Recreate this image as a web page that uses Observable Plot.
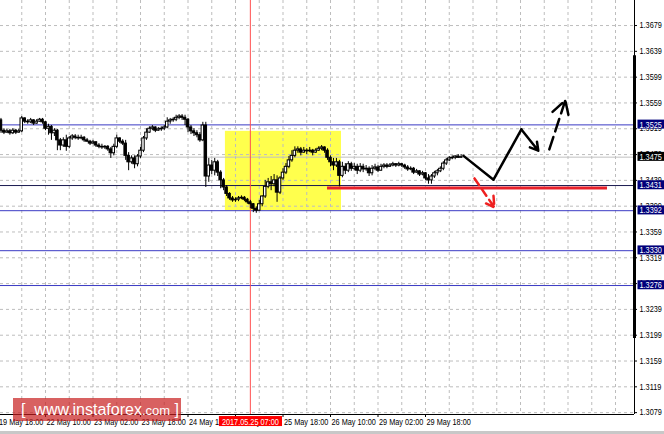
<!DOCTYPE html>
<html><head><meta charset="utf-8">
<script src="https://cdn.jsdelivr.net/npm/d3@7"></script>
<script src="https://cdn.jsdelivr.net/npm/@observablehq/plot@0.6"></script>
<style>
body{margin:0;background:#fff;}
#wrap{position:relative;width:664px;height:434px;overflow:hidden;}
#wm{position:absolute;left:13px;top:398px;width:168px;height:23px;background:rgba(200,30,30,0.7);color:#fff;font-family:"Liberation Sans",Arial,sans-serif;font-size:16px;line-height:23px;white-space:pre;padding-left:8px;box-sizing:border-box;}
#wm small{font-size:13px;}
#edge{position:absolute;left:0;top:431px;width:664px;height:3px;background:#c8c8c8;}
</style></head><body><div id="wrap"></div><script>
// OHLC candles, H1 bars, [open, high, low, close]
const candles = [
[1.3541,1.3544,1.3526,1.3532],[1.3532,1.3535,1.3512,1.3516],[1.3516,1.3519,1.3510,1.3513],[1.3513,1.3518,1.3512,1.3515],
[1.3515,1.3518,1.3509,1.3512],[1.3512,1.3519,1.3510,1.3516],[1.3516,1.3518,1.3510,1.3513],[1.3513,1.3518,1.3512,1.3515],
[1.3515,1.3538,1.3513,1.3535],[1.3535,1.3536,1.3527,1.3530],[1.3530,1.3533,1.3526,1.3529],[1.3529,1.3535,1.3527,1.3532],
[1.3532,1.3533,1.3524,1.3527],[1.3527,1.3533,1.3526,1.3530],[1.3530,1.3535,1.3529,1.3533],[1.3533,1.3535,1.3526,1.3529],
[1.3529,1.3530,1.3516,1.3519],[1.3519,1.3526,1.3509,1.3522],[1.3522,1.3524,1.3501,1.3512],[1.3512,1.3519,1.3507,1.3516],
[1.3516,1.3518,1.3485,1.3501],[1.3501,1.3504,1.3485,1.3493],[1.3493,1.3505,1.3490,1.3501],[1.3501,1.3509,1.3484,1.3491],
[1.3491,1.3507,1.3488,1.3504],[1.3504,1.3510,1.3501,1.3507],[1.3507,1.3510,1.3502,1.3505],[1.3505,1.3509,1.3501,1.3504],
[1.3504,1.3509,1.3502,1.3505],[1.3505,1.3507,1.3498,1.3501],[1.3501,1.3504,1.3498,1.3499],[1.3499,1.3501,1.3493,1.3496],
[1.3496,1.3501,1.3495,1.3498],[1.3498,1.3499,1.3490,1.3493],[1.3493,1.3496,1.3488,1.3491],[1.3491,1.3495,1.3487,1.3490],
[1.3490,1.3493,1.3487,1.3491],[1.3491,1.3493,1.3484,1.3487],[1.3487,1.3490,1.3473,1.3481],[1.3481,1.3495,1.3477,1.3491],
[1.3491,1.3509,1.3488,1.3504],[1.3504,1.3505,1.3496,1.3499],[1.3499,1.3502,1.3493,1.3496],[1.3496,1.3501,1.3470,1.3477],
[1.3477,1.3482,1.3454,1.3467],[1.3467,1.3477,1.3464,1.3473],[1.3473,1.3477,1.3457,1.3464],[1.3464,1.3479,1.3460,1.3476],
[1.3476,1.3490,1.3473,1.3485],[1.3485,1.3507,1.3482,1.3504],[1.3504,1.3519,1.3501,1.3513],[1.3513,1.3522,1.3512,1.3519],
[1.3519,1.3524,1.3516,1.3521],[1.3521,1.3522,1.3513,1.3516],[1.3516,1.3521,1.3515,1.3518],[1.3518,1.3522,1.3515,1.3519],
[1.3519,1.3524,1.3516,1.3521],[1.3521,1.3536,1.3519,1.3530],[1.3530,1.3535,1.3526,1.3532],[1.3532,1.3536,1.3529,1.3533],
[1.3533,1.3540,1.3530,1.3536],[1.3536,1.3541,1.3533,1.3538],[1.3538,1.3541,1.3532,1.3536],[1.3536,1.3540,1.3524,1.3533],
[1.3533,1.3535,1.3513,1.3521],[1.3521,1.3524,1.3510,1.3515],[1.3515,1.3519,1.3507,1.3512],[1.3512,1.3516,1.3505,1.3509],
[1.3509,1.3513,1.3498,1.3501],[1.3501,1.3529,1.3499,1.3524],[1.3524,1.3529,1.3428,1.3445],[1.3445,1.3473,1.3436,1.3462],
[1.3462,1.3470,1.3448,1.3454],[1.3454,1.3473,1.3446,1.3467],[1.3467,1.3470,1.3445,1.3451],[1.3451,1.3454,1.3426,1.3439],
[1.3439,1.3442,1.3423,1.3428],[1.3428,1.3431,1.3414,1.3418],[1.3418,1.3420,1.3408,1.3411],[1.3411,1.3414,1.3405,1.3408],
[1.3408,1.3412,1.3405,1.3409],[1.3409,1.3414,1.3406,1.3411],[1.3411,1.3415,1.3409,1.3412],[1.3412,1.3414,1.3406,1.3409],
[1.3409,1.3411,1.3402,1.3405],[1.3405,1.3408,1.3395,1.3402],[1.3402,1.3403,1.3389,1.3395],[1.3395,1.3398,1.3388,1.3392],
[1.3392,1.3408,1.3391,1.3402],[1.3402,1.3415,1.3398,1.3414],[1.3414,1.3439,1.3411,1.3429],[1.3429,1.3442,1.3426,1.3436],
[1.3436,1.3445,1.3423,1.3433],[1.3433,1.3448,1.3429,1.3439],[1.3439,1.3446,1.3405,1.3420],[1.3420,1.3445,1.3417,1.3442],
[1.3442,1.3457,1.3439,1.3451],[1.3451,1.3465,1.3448,1.3460],[1.3460,1.3476,1.3457,1.3470],[1.3470,1.3485,1.3467,1.3477],
[1.3477,1.3491,1.3474,1.3485],[1.3485,1.3491,1.3481,1.3487],[1.3487,1.3490,1.3477,1.3482],[1.3482,1.3490,1.3481,1.3485],
[1.3485,1.3488,1.3479,1.3484],[1.3484,1.3490,1.3482,1.3485],[1.3485,1.3487,1.3477,1.3482],[1.3482,1.3488,1.3481,1.3485],
[1.3485,1.3491,1.3484,1.3488],[1.3488,1.3493,1.3485,1.3490],[1.3490,1.3491,1.3481,1.3485],[1.3485,1.3488,1.3470,1.3474],
[1.3474,1.3477,1.3460,1.3467],[1.3467,1.3473,1.3454,1.3462],[1.3462,1.3473,1.3459,1.3467],[1.3467,1.3470,1.3429,1.3446],
[1.3446,1.3467,1.3443,1.3460],[1.3460,1.3465,1.3448,1.3454],[1.3454,1.3468,1.3451,1.3464],[1.3464,1.3467,1.3453,1.3457],
[1.3457,1.3465,1.3454,1.3460],[1.3460,1.3464,1.3448,1.3454],[1.3454,1.3465,1.3451,1.3460],[1.3460,1.3464,1.3451,1.3456],
[1.3456,1.3462,1.3453,1.3457],[1.3457,1.3460,1.3445,1.3450],[1.3450,1.3462,1.3446,1.3457],[1.3457,1.3464,1.3454,1.3459],
[1.3459,1.3462,1.3451,1.3454],[1.3454,1.3464,1.3453,1.3460],[1.3460,1.3465,1.3457,1.3462],[1.3462,1.3465,1.3457,1.3460],
[1.3460,1.3465,1.3459,1.3462],[1.3462,1.3467,1.3460,1.3464],[1.3464,1.3465,1.3459,1.3462],[1.3462,1.3467,1.3460,1.3464],
[1.3464,1.3465,1.3459,1.3462],[1.3462,1.3464,1.3456,1.3459],[1.3459,1.3462,1.3453,1.3456],[1.3456,1.3460,1.3454,1.3457],
[1.3457,1.3459,1.3448,1.3451],[1.3451,1.3456,1.3450,1.3453],[1.3453,1.3454,1.3445,1.3448],[1.3448,1.3453,1.3446,1.3450],
[1.3450,1.3451,1.3439,1.3442],[1.3442,1.3448,1.3433,1.3439],[1.3439,1.3448,1.3433,1.3445],[1.3445,1.3453,1.3442,1.3450],
[1.3450,1.3456,1.3446,1.3453],[1.3453,1.3460,1.3451,1.3457],[1.3457,1.3468,1.3454,1.3465],[1.3465,1.3473,1.3462,1.3470],
[1.3470,1.3476,1.3468,1.3473],[1.3473,1.3477,1.3471,1.3474],[1.3474,1.3477,1.3471,1.3476],[1.3476,1.3479,1.3473,1.3474],
[1.3474,1.3479,1.3473,1.3475]
];

// Time axis: bar index of each label, and its text
const timeTickIndex = [0, 16, 32, 48, 64, 80, 96, 112, 128, 144];
const timeTickLabels = ["19 May 18:00","22 May 10:00","23 May 02:00","23 May 18:00","24 May 10:00",
  "25 May 02:00","25 May 18:00","26 May 10:00","29 May 02:00","29 May 18:00"];
const markerIndex = 85;
const markerLabel = "2017.05.25 07:00";

// Price axis
const priceTicks = [1.3079,1.3119,1.3159,1.3199,1.3239,1.3279,1.3319,1.3359,1.3399,1.3439,1.3479,1.3519,1.3559,1.3599,1.3639,1.3679];
const levelLines = [1.3525, 1.3392, 1.3330, 1.3276];
const pivotLevel = 1.3431;
const bidPrice = 1.3475;

// Annotations (bar index, price)
const zoneX = [76.6, 115.7];
const zoneY = [1.3392, 1.3515];
const supportLineX = [111.0, 205.3];
const supportLineY = 1.3427;
const forecastPath = [[156.8, 1.3477], [166.9, 1.3440], [176.3, 1.3518]];
const forecastArrow1 = [[176.3, 1.3518], [182.0, 1.3485]];
const forecastArrow2 = [[185.7, 1.3487], [191.1, 1.3563]];
const bearArrow = [[160.5, 1.3442], [167.2, 1.3397]];
const scaleBar = [1.3632, 1.3194];

const xDomain = [0.84, 214.4];
const yDomain = [1.30761, 1.37178];

const data = candles.map((d, i) => ({i, o: d[0], h: d[1], l: d[2], c: d[3]}));
const gridIdx = d3.range(0, 215, 8);
const levelBlue = "#3a3ac4";

const chart = Plot.plot({
  width: 664, height: 434,
  marginLeft: 0, marginRight: 30, marginTop: 0, marginBottom: 20,
  x: {domain: xDomain, axis: null},
  y: {domain: yDomain, axis: null},
  style: {fontFamily: "'Liberation Sans',Arial,sans-serif", fontSize: "8.5px", background: "#fff", overflow: "visible"},
  marks: [
    Plot.rect([0], {x1: () => zoneX[0], x2: () => zoneX[1], y1: () => zoneY[0], y2: () => zoneY[1], fill: "#ffff4d"}),
    Plot.ruleY(priceTicks, {stroke: "#bdbdbd", strokeDasharray: "3,3"}),
    Plot.ruleX(gridIdx, {stroke: "#bdbdbd", strokeDasharray: "3,3"}),
    Plot.ruleY([bidPrice], {stroke: "#c0c0c0"}),
    Plot.ruleY(levelLines, {stroke: levelBlue}),
    Plot.ruleY([pivotLevel], {stroke: "#1a1a50"}),
    Plot.ruleX([markerIndex], {stroke: "#ff5050"}),
    Plot.ruleY([supportLineY], {x1: () => supportLineX[0], x2: () => supportLineX[1], stroke: "#e8202a", strokeWidth: 3}),
    // candles
    Plot.ruleX(data, {x: "i", y1: "l", y2: "h", stroke: "#000", strokeWidth: 1}),
    Plot.rect(data, {x1: d => d.i - 0.42, x2: d => d.i + 0.42, y1: "o", y2: "c",
      fill: d => d.c > d.o ? "#fff" : "#000", stroke: "#000", strokeWidth: 1}),
    // forecast arrows
    Plot.line(forecastPath, {x: d => d[0], y: d => d[1], stroke: "#000", strokeWidth: 2.5}),
    Plot.arrow([forecastArrow1], {x1: d => d[0][0], y1: d => d[0][1], x2: d => d[1][0], y2: d => d[1][1], stroke: "#000", strokeWidth: 2.5, headLength: 11}),
    Plot.arrow([forecastArrow2], {x1: d => d[0][0], y1: d => d[0][1], x2: d => d[1][0], y2: d => d[1][1], stroke: "#000", strokeWidth: 2.5, headLength: 11, strokeDasharray: "13,6"}),
    Plot.arrow([bearArrow], {x1: d => d[0][0], y1: d => d[0][1], x2: d => d[1][0], y2: d => d[1][1], stroke: "#ee2020", strokeWidth: 2.5, headLength: 10, strokeDasharray: "8,5"}),
    // frame lines
    Plot.ruleX([xDomain[1]], {stroke: "#000"}),
    Plot.ruleX([xDomain[1]], {y1: () => scaleBar[0], y2: () => scaleBar[1], stroke: "#000", strokeWidth: 3}),
    Plot.ruleY([yDomain[0]], {stroke: "#000"}),
    // price axis
    Plot.ruleY(priceTicks, {insetLeft: 634, insetRight: -3, stroke: "#000"}),
    Plot.text(priceTicks, {y: d => d, text: d => d.toFixed(4), frameAnchor: "right", dx: 5, textAnchor: "start", fill: "#000"}),
    Plot.text([...levelLines, pivotLevel, bidPrice], {y: d => d, text: d => d.toFixed(4), frameAnchor: "right", dx: 5, textAnchor: "start", fill: "#fff"}),
    // time axis
    Plot.ruleX(timeTickIndex, {insetTop: 414, insetBottom: -3, stroke: "#000"}),
    Plot.text(timeTickIndex, {x: d => d, text: (d, i) => timeTickLabels[i], frameAnchor: "bottom", lineAnchor: "top", dy: 4, dx: 1, textAnchor: "start", fill: "#000"}),
    Plot.text([markerIndex], {x: d => d, text: () => markerLabel, frameAnchor: "bottom", lineAnchor: "top", dy: 4, textAnchor: "middle", fill: "#fff"})
  ]
});

const wrap = document.getElementById("wrap");
wrap.appendChild(chart);

// narrow the small UI font (MT4-like condensed glyphs)
d3.select(chart).selectAll("text").each(function() {
  const len = this.getComputedTextLength();
  if (len > 0) {
    this.setAttribute("textLength", (len * 0.86).toFixed(1));
    this.setAttribute("lengthAdjust", "spacingAndGlyphs");
  }
});

// label backgrounds
const bgMap = new Map();
[...levelLines, pivotLevel].forEach(v => bgMap.set(v.toFixed(4), "#00007a"));
bgMap.set(bidPrice.toFixed(4), "#000");
bgMap.set(markerLabel, "#ff0000");
d3.select(chart).selectAll("text").each(function() {
  const key = this.textContent;
  if (!bgMap.has(key)) return;
  const b = this.getBBox();
  const node = this;
  const isMarker = key === markerLabel;
  const r = d3.select(this.parentNode).insert("rect", () => node)
    .attr("x", isMarker ? b.x - 3 : b.x - 2)
    .attr("y", b.y - (isMarker ? 0.5 : 0))
    .attr("width", isMarker ? b.width + 6 : 28)
    .attr("height", b.height + (isMarker ? 0 : -1))
    .attr("fill", bgMap.get(key));
  const t = this.getAttribute("transform");
  if (t) r.attr("transform", t);
});

const wm = document.createElement("div");
wm.id = "wm";
wm.innerHTML = "[  www.instaforex<small>.com</small> ]";
wrap.appendChild(wm);
const edge = document.createElement("div");
edge.id = "edge";
wrap.appendChild(edge);
</script></body></html>
